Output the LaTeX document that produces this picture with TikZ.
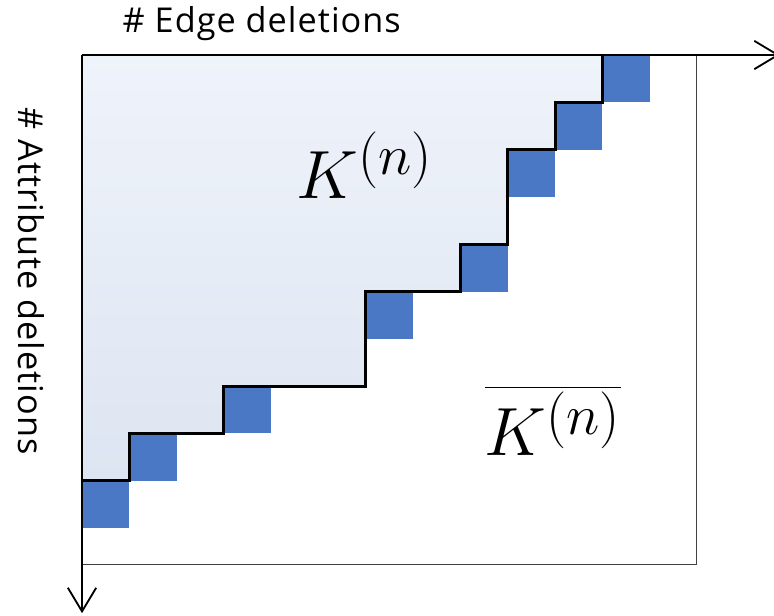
\documentclass[tikz,border=0pt]{standalone}
\usepackage{fontspec}
\setmainfont{Open Sans}[LetterSpace=3]
\usetikzlibrary{arrows.meta}
\definecolor{cellblue}{RGB}{74,120,196}
\definecolor{regiontop}{RGB}{239,243,250}
\definecolor{regionbot}{RGB}{221,229,242}
\tikzset{
  axis/.style={line width=1.1pt,-{Straight Barb[length=5mm,width=6mm]}},
  stair/.style={line width=1.8pt,line join=miter},
  labeltext/.style={font=\fontsize{20.6}{24}\selectfont},
  bigmath/.style={font=\Huge,scale=1.65,transform shape}
}
\begin{document}
\begin{tikzpicture}
  \useasboundingbox (-1.734,1.163) rectangle (14.63,-11.86);
  \coordinate (origin) at (0,0);
  \coordinate (xtip) at (14.75,0);
  \coordinate (ytip) at (0,-11.8);
  \shade[top color=regiontop,bottom color=regionbot] (0,0) -- (11,0) -- (11,-1) -- (10,-1) -- (10,-2) -- (9,-2) -- (9,-4) -- (8,-4) -- (8,-5) -- (6,-5) -- (6,-7) -- (3,-7) -- (3,-8) -- (1,-8) -- (1,-9) -- (0,-9) -- cycle;
  \foreach \c/\r in {0/9,1/8,3/7,6/5,8/4,9/2,10/1,11/0}
    \fill[cellblue] (\c,-\r) rectangle ++(1,-1);
  \draw[line width=0.7pt,black!75] (0,-10.78) -- (13,-10.78) -- (13,0);
  \draw[stair] (0,-9) -- (1,-9) -- (1,-8) -- (3,-8) -- (3,-7) -- (6,-7) -- (6,-5) -- (8,-5) -- (8,-4) -- (9,-4) -- (9,-2) -- (10,-2) -- (10,-1) -- (11,-1) -- (11,0);
  \draw[axis] (origin) -- (xtip);
  \draw[axis] (origin) -- (ytip);
  \node[labeltext] (edgelabel) at (3.8,0.655) {\# Edge deletions};
  \node[labeltext,rotate=-90] (attrlabel) at (-1.08,-4.78) {\# Attribute deletions};
  \node[bigmath] (kin) at (5.98,-2.33) {$K^{(n)}$};
  \node[bigmath] (kout) at (9.96,-7.74) {$\overline{K^{(n)}}$};
\end{tikzpicture}
\end{document}
